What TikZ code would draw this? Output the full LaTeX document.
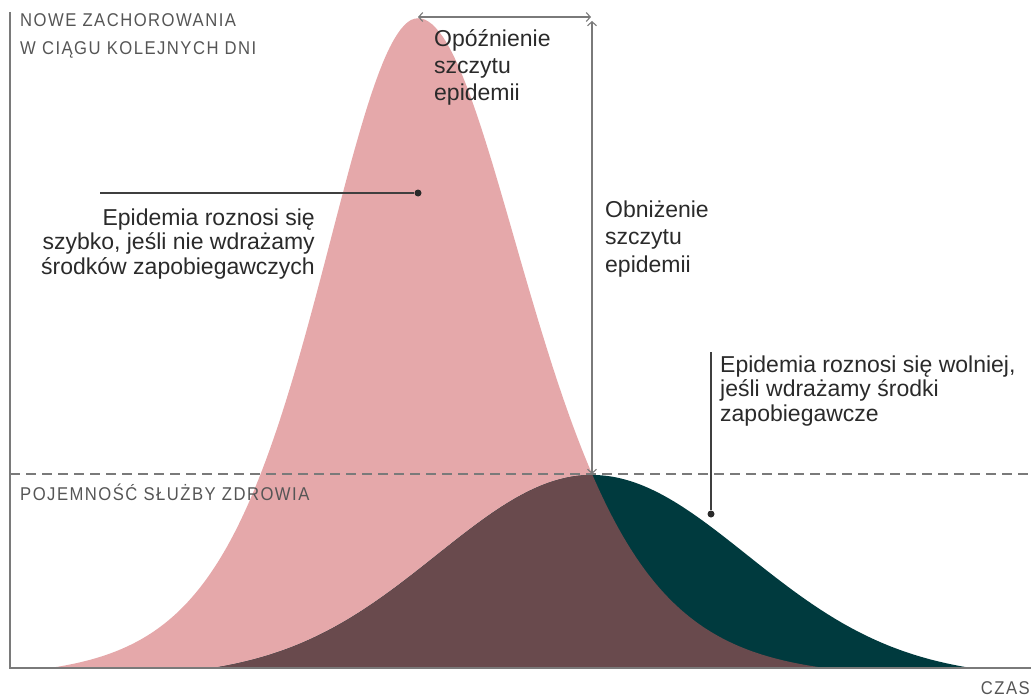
\documentclass[tikz,border=0pt]{standalone}
\usepackage{fontspec}
\setmainfont{Liberation Sans}
\newfontfamily\capsfont[FakeStretch=0.9,LetterSpace=8]{Liberation Sans}
\usetikzlibrary{arrows.meta}

\definecolor{fastpink}{HTML}{E5A8AA}
\definecolor{overlap}{HTML}{694A4D}
\definecolor{slowteal}{HTML}{003A3E}
\definecolor{axisgray}{HTML}{7A7A7A}
\definecolor{capsgray}{HTML}{555555}
\definecolor{inkdark}{HTML}{2A2A2A}

\tikzset{
  body/.style={font=\fontsize{23}{28}\selectfont, text=inkdark, inner sep=0pt},
  caps/.style={font=\capsfont\fontsize{18.5}{20}\selectfont, text=capsgray, inner sep=0pt},
  marker/.style={circle, fill=inkdark, inner sep=0pt, minimum size=7pt},
  leader/.style={inkdark!90, line width=1.3pt},
  gap/.style={axisgray, line width=1.1pt,
    {Straight Barb[length=4pt,width=9pt]}-{Straight Barb[length=4pt,width=9pt]}},
}

\begin{document}
\begin{tikzpicture}[x=1pt,y=-1pt,
  declare function={
    fastcurve(\t)=668-650*(1/cosh((\t-418)/((\t<418)*132+(\t>=418)*146))^2-0.015)/0.985;
    slowcurve(\t)=668-193*(exp(-0.5*((\t-592)/155)^2)-0.05)/0.95;
  }]
\useasboundingbox (0,0) rectangle (1031,698);

% The two outbreaks
\fill[fastpink] (50,668) -- plot[domain=50:825,samples=220] (\x,{fastcurve(\x)}) -- cycle;
\fill[slowteal] (213,668) -- plot[domain=213:971,samples=200] (\x,{slowcurve(\x)}) -- cycle;
\begin{scope}
  \clip (50,668) -- plot[domain=50:825,samples=220] (\x,{fastcurve(\x)}) -- cycle;
  \fill[overlap] (213,668) -- plot[domain=213:971,samples=200] (\x,{slowcurve(\x)}) -- cycle;
\end{scope}

% Health care capacity
\coordinate (capleft) at (10,474);
\coordinate (capright) at (1031,474);
\draw[axisgray, line width=1.3pt, dash pattern=on 10pt off 6pt] (capleft) -- (capright);

% The axes
\coordinate (origin) at (10,668);
\coordinate (ytop) at (10,12);
\coordinate (xend) at (1031,668);
\draw[axisgray, line width=1.4pt] (ytop) -- (origin) -- (xend);

% Delay and lowering of the peak
\coordinate (fastpeak) at (418,17);
\coordinate (delayend) at (591,17);
\coordinate (droptop) at (592,21);
\coordinate (slowpeak) at (592,474);
\draw[gap] (fastpeak) -- (delayend);
\draw[gap] (droptop) -- (slowpeak);

% Leaders with dots
\node[marker] (fastdot) at (418,193) {};
\coordinate (fastlead) at (100,193);
\draw[leader] (fastlead) -- (fastdot);
\node[marker] (slowdot) at (711,514) {};
\coordinate (slowlead) at (711,352);
\draw[leader] (slowlead) -- (slowdot);

% Labels
\node[caps, anchor=base west] (ylabel1) at (20,27) {NOWE ZACHOROWANIA};
\node[caps, anchor=base west] (ylabel2) at (20,55) {W CIĄGU KOLEJNYCH DNI};
\node[caps, anchor=base west] (caplabel) at (20,500) {POJEMNOŚĆ SŁUŻBY ZDROWIA};
\node[caps, anchor=base east] (xlabel) at (1030,694) {CZAS};

\foreach \line [count=\i from 0] in {Opóźnienie,szczytu,epidemii}
  \node[body, anchor=base west] (delay\i) at (434,{47+27*\i}) {\line};
\foreach \line [count=\i from 0] in {Obniżenie,szczytu,epidemii}
  \node[body, anchor=base west] (lower\i) at (605,{217+27.5*\i}) {\line};
\foreach \line [count=\i from 0] in {Epidemia roznosi się,{szybko, jeśli nie wdrażamy},środków zapobiegawczych}
  \node[body, anchor=base east] (fast\i) at (315,{225+24.5*\i}) {\line};
\foreach \line [count=\i from 0] in {{Epidemia roznosi się wolniej,},jeśli wdrażamy środki,zapobiegawcze}
  \node[body, anchor=base west] (slow\i) at (720,{372+24.5*\i}) {\line};
\end{tikzpicture}
\end{document}
